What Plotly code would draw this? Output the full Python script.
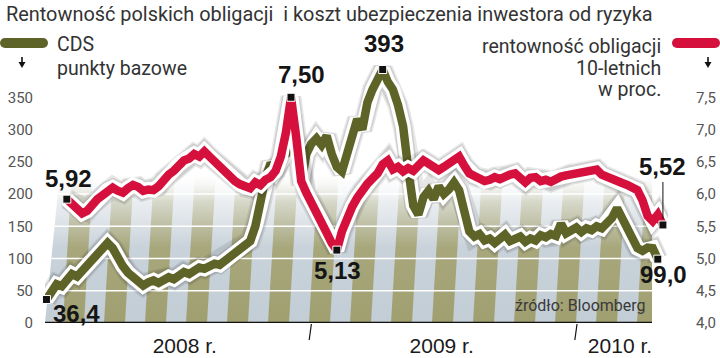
import plotly.graph_objects as go
import pandas as pd

# ---------------- data ----------------
TITLE = "Rentowność polskich obligacji  i koszt ubezpieczenia inwestora od ryzyka"
dates = pd.date_range("2008-01-03", "2010-04-29", freq="7D")  # weekly observations

cds = [36.4, 50, 60, 57, 68, 76, 72, 80, 92, 98,
       106, 114, 124, 116, 98, 88, 78, 70, 62, 58,
       63, 66, 62, 68, 71, 68, 75, 79, 76, 83,
       86, 84, 89, 92, 90, 96, 101, 106, 112, 118,
       127, 150, 190, 225, 248, 236, 255, 262, 322, 248,
       215, 262, 278, 286, 276, 290, 262, 242, 235, 262,
       298, 316, 300, 342, 362, 378, 393, 374, 362, 338,
       305, 240, 182, 168, 195, 205, 192, 212, 200, 207,
       218, 206, 170, 142, 134, 138, 128, 131, 124, 129,
       137, 127, 130, 134, 126, 131, 128, 136, 133, 138,
       135, 154, 139, 144, 148, 141, 147, 144, 150, 147,
       155, 163, 178, 162, 142, 126, 116, 112, 117, 116,
       99.0, None]

yld = [None, None, None, None, 5.92, 5.86, 5.76, 5.70, 5.74, 5.84,
       5.92, 5.98, 6.06, 6.10, 6.05, 6.02, 6.09, 6.14, 6.11, 6.05,
       6.07, 6.06, 6.12, 6.22, 6.30, 6.36, 6.46, 6.52, 6.55, 6.62,
       6.58, 6.66, 6.58, 6.50, 6.42, 6.36, 6.28, 6.20, 6.15, 6.11,
       6.09, 6.18, 6.14, 6.22, 6.26, 6.36, 6.58, 6.95, 7.50, 6.90,
       6.20, 6.02, 5.88, 5.72, 5.58, 5.40, 5.24, 5.13, 5.42, 5.66,
       5.80, 5.94, 6.06, 6.16, 6.24, 6.32, 6.46, 6.52, 6.38, 6.42,
       6.35, 6.40, 6.36, 6.44, 6.52, 6.47, 6.40, 6.37, 6.42, 6.48,
       6.54, 6.58, 6.44, 6.32, 6.28, 6.25, 6.20, 6.22, 6.26, 6.23,
       6.28, 6.30, 6.32, 6.24, 6.18, 6.25, 6.26, 6.20, 6.22, 6.19,
       6.24, 6.27, 6.29, 6.31, 6.32, 6.33, 6.35, 6.36, 6.38, 6.30,
       6.26, 6.22, 6.19, 6.17, 6.14, 6.11, 6.06, 5.90, 5.66, 5.58,
       5.68, 5.52]

left_tick_vals = [0, 50, 100, 150, 200, 250, 300, 350]
left_tick_text = ["0", "50", "100", "150", "200", "250", "300", "350"]
right_tick_vals = [4.0, 4.5, 5.0, 5.5, 6.0, 6.5, 7.0, 7.5]
right_tick_text = ["4,0", "4,5", "5,0", "5,5", "6,0", "6,5", "7,0", "7,5"]
year_text = ["2008 r.", "2009 r.", "2010 r."]
year_label_pos = ["2008-07-11", "2009-06-29", "2010-03-01"]
year_bounds = ["2009-01-01", "2010-01-01"]
grid_vals = [50, 100, 150, 200, 250]

legend_cds = ["CDS", "punkty bazowe"]
legend_yld = ["rentowność obligacji", "10-letnich", "w proc."]
source_text = "źródło: Bloomberg"

# ---------------- style / geometry ----------------
W, H = 720, 358
L, R, T, B = 45, 52, 65, 35
PW, PH = W - L - R, H - T - B
X0 = pd.Timestamp("2008-01-01")
X1 = pd.Timestamp("2010-05-06")
Y_MAX = 400
OLIVE = "#5e6328"
RED = "#d6103c"
BOLD = "Liberation Sans, Arial, sans-serif"
REG = "Roboto, Liberation Sans, sans-serif"


def px_date(px):
    return X0 + (X1 - X0) * ((px - L) / PW)


def pxx(px):
    return (px - L) / PW


def pxy(py):
    return (H - B - py) / PH


AREA_RIGHT = 652
AREA_TOP = 235


def left_edge(v):
    return 45 + 15 * v / AREA_TOP


fig = go.Figure()

# background panel (blue-grey) with vertical fade
bx = [px_date(45), px_date(AREA_RIGHT), px_date(AREA_RIGHT), px_date(left_edge(AREA_TOP)), px_date(45)]
by = [0, 0, AREA_TOP, AREA_TOP, 0]
fig.add_trace(go.Scatter(
    x=bx, y=by, mode="lines", line=dict(width=0), fill="toself",
    fillgradient=dict(type="vertical", start=0, stop=AREA_TOP,
                      colorscale=[[0, "rgba(194,205,213,1)"], [0.5, "rgba(198,208,216,0.95)"],
                                  [0.8, "rgba(214,221,227,0.5)"], [1, "rgba(255,255,255,0)"]]),
    hoverinfo="skip", showlegend=False))

# khaki slanted stripes
sx, sy = [], []
SLANT = 9
for k in range(15):
    xb = 63 + 41 * k
    pts = [(xb, 0), (xb + 21, 0), (xb + 21 + SLANT, AREA_TOP), (xb + SLANT, AREA_TOP)]
    clipped = []
    for (x, v) in pts:
        x = min(max(x, left_edge(v)), AREA_RIGHT)
        clipped.append((x, v))
    if clipped[0][0] >= AREA_RIGHT:
        continue
    for (x, v) in clipped + [clipped[0]]:
        sx.append(px_date(x))
        sy.append(v)
    sx.append(None)
    sy.append(None)
fig.add_trace(go.Scatter(
    x=sx, y=sy, mode="lines", line=dict(width=0), fill="toself",
    fillgradient=dict(type="vertical", start=0, stop=AREA_TOP,
                      colorscale=[[0, "rgba(160,159,112,1)"], [0.5, "rgba(166,165,119,0.95)"],
                                  [0.8, "rgba(190,189,152,0.45)"], [1, "rgba(255,255,255,0)"]]),
    hoverinfo="skip", showlegend=False))

# white horizontal grid lines
gx, gy = [], []
for g in grid_vals:
    gx += [px_date(left_edge(g)), px_date(AREA_RIGHT), None]
    gy += [g, g, None]
fig.add_trace(go.Scatter(x=gx, y=gy, mode="lines", line=dict(color="white", width=1.6),
                         hoverinfo="skip", showlegend=False))


def add_line(y, yaxis, color):
    for c, w in [("rgba(30,30,30,0.10)", 21), ("rgba(30,30,30,0.12)", 18), ("white", 15), (color, 8.5)]:
        fig.add_trace(go.Scatter(x=dates, y=y, yaxis=yaxis, mode="lines",
                                 line=dict(color=c, width=w), hoverinfo="skip", showlegend=False))


add_line(yld, "y2", RED)
add_line(cds, "y", OLIVE)

# key points
yv = [(i, v) for i, v in enumerate(yld) if v is not None]
cv = [(i, v) for i, v in enumerate(cds) if v is not None]
y_idx = [yv[0][0], max(yv, key=lambda t: t[1])[0], min(yv, key=lambda t: t[1])[0], yv[-1][0]]
c_idx = [cv[0][0], max(cv, key=lambda t: t[1])[0], cv[-1][0]]

mk = dict(symbol="square", size=8, color="#111111", line=dict(color="white", width=1))
fig.add_trace(go.Scatter(x=[dates[i] for i in y_idx], y=[yld[i] for i in y_idx], yaxis="y2",
                         mode="markers", marker=mk, cliponaxis=False, hoverinfo="skip", showlegend=False))
fig.add_trace(go.Scatter(x=[dates[i] for i in c_idx], y=[cds[i] for i in c_idx], yaxis="y",
                         mode="markers", marker=mk, cliponaxis=False, hoverinfo="skip", showlegend=False))

LBL = dict(family=BOLD, size=24, color="#151515")
ann = []
# yield labels: start, max, min, end  (offsets in px: right, up)
y_off = [(2, 21), (10, 23), (1, -20), (0, 58)]
for n, (i, (dx, dy)) in enumerate(zip(y_idx, y_off)):
    txt = "<b>" + f"{yld[i]:.2f}".replace(".", ",") + "</b>"
    if n == 3:
        ann.append(dict(x=dates[i], y=yld[i], xref="x", yref="y2", text=txt, font=LBL,
                        showarrow=True, arrowhead=0, arrowwidth=1, arrowcolor="#111",
                        ax=dx, ay=-dy, standoff=6))
    else:
        ann.append(dict(x=dates[i], y=yld[i], xref="x", yref="y2", text=txt, font=LBL,
                        showarrow=False, xshift=dx, yshift=dy))
c_off = [(30, -14), (1, 26), (6, -15)]
c_fmt = ["{:.1f}", "{:.0f}", "{:.1f}"]
for i, (dx, dy), f in zip(c_idx, c_off, c_fmt):
    txt = "<b>" + f.format(cds[i]).replace(".", ",") + "</b>"
    ann.append(dict(x=dates[i], y=cds[i], xref="x", yref="y", text=txt, font=LBL,
                    showarrow=False, xshift=dx, yshift=dy))

# title, legend texts, source
ann.append(dict(x=pxx(4), y=pxy(14), xref="paper", yref="paper", text=TITLE,
                font=dict(family=REG, size=19.9, color="#333333"),
                showarrow=False, xanchor="left", yanchor="middle"))
TXT = dict(family=REG, size=19.5, color="#333333")
for k, t in enumerate(legend_cds):
    ann.append(dict(x=pxx(55), y=pxy(44 + 24 * k), xref="paper", yref="paper", text=t, font=TXT,
                    showarrow=False, xanchor="left", yanchor="middle"))
for k, t in enumerate(legend_yld):
    ann.append(dict(x=pxx(663), y=pxy(46 + 22 * k), xref="paper", yref="paper", text=t, font=TXT,
                    showarrow=False, xanchor="right", yanchor="middle"))
ann.append(dict(x=pxx(648), y=pxy(305), xref="paper", yref="paper", text=source_text,
                font=dict(family=REG, size=16, color="#3a3a3a"),
                showarrow=False, xanchor="right", yanchor="middle"))

shapes = []
# baseline
shapes.append(dict(type="line", xref="paper", yref="y", x0=0, x1=pxx(AREA_RIGHT), y0=0, y1=0,
                   line=dict(color="#111", width=2.5)))
# year boundary ticks
for d in year_bounds:
    dd = pd.Timestamp(d)
    shapes.append(dict(type="line", xref="x", yref="paper", x0=dd, y0=pxy(324),
                       x1=dd - pd.Timedelta(days=3), y1=pxy(340), line=dict(color="#111", width=1.2)))
# legend bars and arrows
for (xa, xb, col, xarrow) in [(0, 48, OLIVE, 22), (672, 720, RED, 708)]:
    shapes.append(dict(type="rect", xref="paper", yref="paper", x0=pxx(xa + 5), x1=pxx(xb - 5),
                       y0=pxy(48), y1=pxy(38), line=dict(width=0), fillcolor=col))
    for cx in (xa + 5, xb - 5):
        shapes.append(dict(type="circle", xref="paper", yref="paper", x0=pxx(cx - 5), x1=pxx(cx + 5),
                           y0=pxy(48), y1=pxy(38), line=dict(width=0), fillcolor=col))
    shapes.append(dict(type="line", xref="paper", yref="paper", x0=pxx(xarrow), x1=pxx(xarrow),
                       y0=pxy(57), y1=pxy(63), line=dict(color="#111", width=1.6)))
    shapes.append(dict(type="path", xref="paper", yref="paper",
                       path=f"M {pxx(xarrow-3.5)},{pxy(62)} L {pxx(xarrow+3.5)},{pxy(62)} L {pxx(xarrow)},{pxy(68)} Z",
                       fillcolor="#111", line=dict(width=0)))

fig.update_layout(
    width=W, height=H, margin=dict(l=L, r=R, t=T, b=B, autoexpand=False),
    paper_bgcolor="white", plot_bgcolor="white", showlegend=False,
    annotations=ann, shapes=shapes, hovermode=False,
    xaxis=dict(type="date", range=[X0, X1], tickmode="array", tickvals=year_label_pos,
               ticktext=year_text, ticks="outside", ticklen=4, tickcolor="rgba(0,0,0,0)",
               tickfont=dict(family=BOLD, size=21, color="#1a1a1a"), automargin=False,
               showgrid=False, zeroline=False, showline=False, fixedrange=True),
    yaxis=dict(range=[0, Y_MAX], tickmode="array", tickvals=left_tick_vals, ticktext=left_tick_text,
               ticks="outside", ticklen=8, tickcolor="rgba(0,0,0,0)", automargin=False,
               tickfont=dict(family=REG, size=15, color="#555555"),
               showgrid=False, zeroline=False, showline=False, fixedrange=True),
    yaxis2=dict(range=[4.0, 4.0 + Y_MAX / 100], overlaying="y", side="right", tickmode="array",
                tickvals=right_tick_vals, ticktext=right_tick_text, automargin=False,
                ticks="outside", ticklen=24, tickcolor="rgba(0,0,0,0)",
                tickfont=dict(family=REG, size=15, color="#555555"),
                showgrid=False, zeroline=False, showline=False, fixedrange=True),
)

fig.write_html("out.html", config={"displayModeBar": False, "staticPlot": True},
               post_script="document.body.style.margin='0px';")
